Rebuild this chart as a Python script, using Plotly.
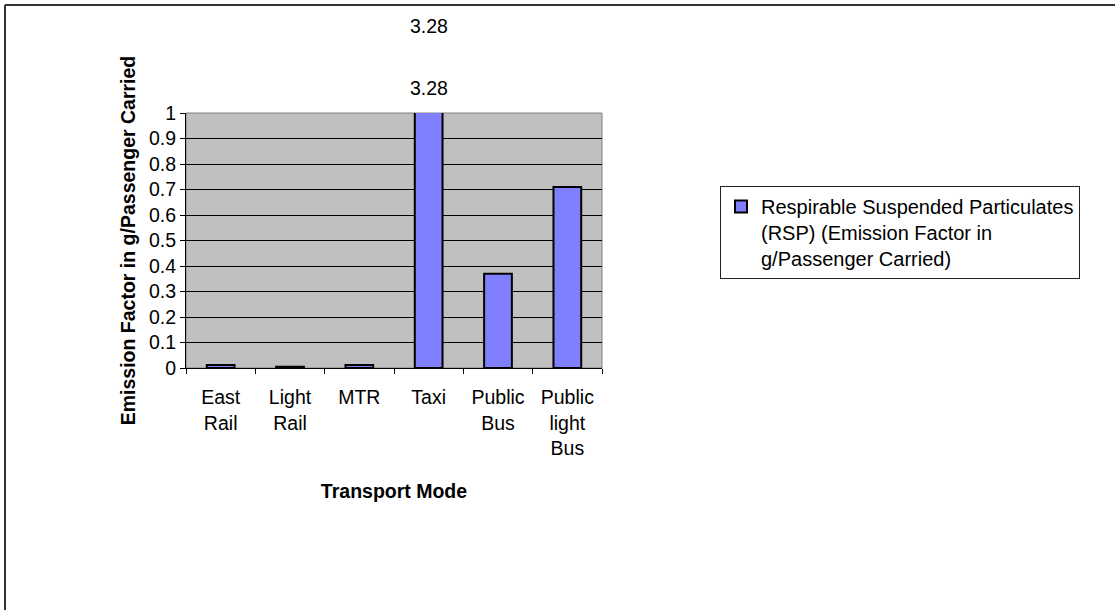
import plotly.graph_objects as go

categories = ["East Rail", "Light Rail", "MTR", "Taxi", "Public Bus", "Public light Bus"]
tick_labels = ["East<br>Rail", "Light<br>Rail", "MTR", "Taxi", "Public<br>Bus", "Public<br>light<br>Bus"]
rsp_values = [0.012, 0.005, 0.012, 3.28, 0.37, 0.71]
series_name = "Respirable Suspended Particulates<br>(RSP) (Emission Factor in<br>g/Passenger Carried)"
y_ticks = [0, 0.1, 0.2, 0.3, 0.4, 0.5, 0.6, 0.7, 0.8, 0.9, 1]

W, H = 1115, 610
L, R, T, B = 186, 602, 113, 368
FONT = "Arial, Liberation Sans, sans-serif"
FS = 19.5


def px_x(px):
    return (px - L) / (R - L)


def px_y(py):
    return (B - py) / (B - T)


fig = go.Figure()
fig.add_trace(go.Bar(
    x=categories,
    y=rsp_values,
    name=series_name,
    marker=dict(color="#8080FF", line=dict(color="black", width=2)),
    showlegend=True,
))

taxi_val = rsp_values[categories.index("Taxi")]
for yy in (88, 26):
    fig.add_annotation(x="Taxi", y=px_y(yy), xref="x", yref="paper",
                       text=f"{taxi_val:.2f}", showarrow=False,
                       font=dict(size=FS, color="black", family=FONT),
                       yanchor="middle")

# plot area border (grey top/right)
fig.add_shape(type="rect", xref="paper", yref="paper", x0=0, x1=1, y0=0, y1=1,
              line=dict(color="#808080", width=1), layer="below")
# outer chart frame
fig.add_shape(type="line", xref="paper", yref="paper",
              x0=px_x(5), x1=px_x(1120), y0=px_y(5), y1=px_y(5),
              line=dict(color="#333333", width=2))
fig.add_shape(type="line", xref="paper", yref="paper",
              x0=px_x(5), x1=px_x(5), y0=px_y(5), y1=px_y(620),
              line=dict(color="#333333", width=2))

fig.update_layout(
    width=W, height=H,
    margin=dict(l=L, r=W - R, t=T, b=H - B, autoexpand=False),
    paper_bgcolor="white",
    plot_bgcolor="#C0C0C0",
    font=dict(family=FONT, size=FS, color="black"),
    bargap=0.6,
    showlegend=True,
    legend=dict(
        x=px_x(720), y=px_y(186), xanchor="left", yanchor="top",
        bordercolor="#222222", borderwidth=1, bgcolor="white",
        font=dict(size=20, color="black", family=FONT),
        itemwidth=30, valign="top",
    ),
)

fig.update_xaxes(
    tickmode="array", tickvals=categories, ticktext=tick_labels,
    tickson="boundaries", ticks="outside", ticklen=5, tickcolor="black",
    showline=True, linecolor="black", linewidth=1,
    showgrid=False, ticklabelstandoff=12,
    tickfont=dict(size=FS, family=FONT, color="black"),
    title=dict(text="<b>Transport Mode</b>", standoff=26,
               font=dict(size=FS, family=FONT, color="black")),
    automargin=False,
)
fig.update_yaxes(
    range=[0, 1], tickmode="array", tickvals=y_ticks,
    ticktext=[f"{v:g}" for v in y_ticks],
    ticks="outside", ticklen=5, tickcolor="black",
    showline=True, linecolor="black", linewidth=1,
    showgrid=True, gridcolor="black", gridwidth=1,
    zeroline=False,
    tickfont=dict(size=FS, family=FONT, color="black"),
    title=dict(text="<b>Emission Factor in g/Passenger Carried</b>", standoff=8,
               font=dict(size=FS, family=FONT, color="black")),
    automargin=False,
)

fig.write_html("out.html")
